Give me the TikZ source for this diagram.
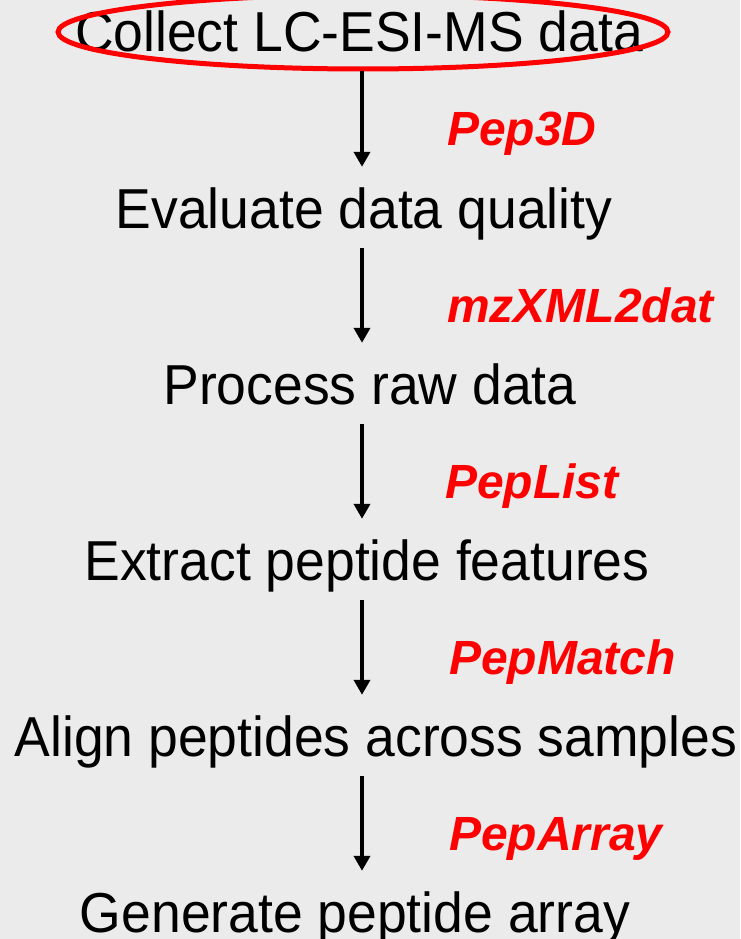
\documentclass[tikz,border=0pt]{standalone}
\usepackage{fontspec}
\setmainfont[FakeStretch=0.95]{Liberation Sans}
\newfontfamily\toolfont{Liberation Sans}
\usetikzlibrary{arrows.meta,shapes.geometric}
\definecolor{bg}{RGB}{235,235,235}
\definecolor{tred}{RGB}{255,0,0}
\begin{document}
\begin{tikzpicture}[x=1pt,y=-1pt,
  stepnode/.style={font=\fontsize{56.3}{62}\selectfont, inner sep=0pt, anchor=base,
                   text height=40pt, text depth=12pt},
  tool/.style={font=\toolfont\fontsize{48}{55}\selectfont\bfseries\itshape, text=tred,
               anchor=base west, inner sep=0pt},
  arr/.style={line width=4.5pt, -{Triangle[width=16pt,length=15pt]}}]
\fill[bg] (0,0) rectangle (740,939);
\useasboundingbox (0,0) rectangle (740,939);

% pipeline steps
\node[stepnode] (s1) at (359,52)  {Collect LC-ESI-MS data};
\node[stepnode] (s2) at (364,228) {Evaluate data quality};
\node[stepnode] (s3) at (370,404) {Process raw data};
\node[stepnode] (s4) at (367,580) {Extract peptide features};
\node[stepnode] (s5) at (376,756) {Align peptides across samples};
\node[stepnode] (s6) at (355,932) {Generate peptide array};

% highlight around the first step
\node[draw=tred, line width=5pt, ellipse, minimum width=610pt, minimum height=74pt,
      inner sep=0pt] (ring) at (363,32) {};

% tools used between steps
\node[tool] (t1) at (447,146) {Pep3D};
\node[tool] (t2) at (447,322) {mzXML2dat};
\node[tool] (t3) at (445,498) {PepList};
\node[tool] (t4) at (449,674) {PepMatch};
\node[tool] (t5) at (449,850) {PepArray};

% connectors
\coordinate (ax) at (362,0);
\draw[arr, shorten >=21pt] (ring.south -| ax) -- (s2.north -| ax);
\draw[arr, shorten <=8pt, shorten >=21pt] (s2.south -| ax) -- (s3.north -| ax);
\draw[arr, shorten <=8pt, shorten >=21pt] (s3.south -| ax) -- (s4.north -| ax);
\draw[arr, shorten <=8pt, shorten >=21pt] (s4.south -| ax) -- (s5.north -| ax);
\draw[arr, shorten <=8pt, shorten >=21pt] (s5.south -| ax) -- (s6.north -| ax);
\end{tikzpicture}
\end{document}
